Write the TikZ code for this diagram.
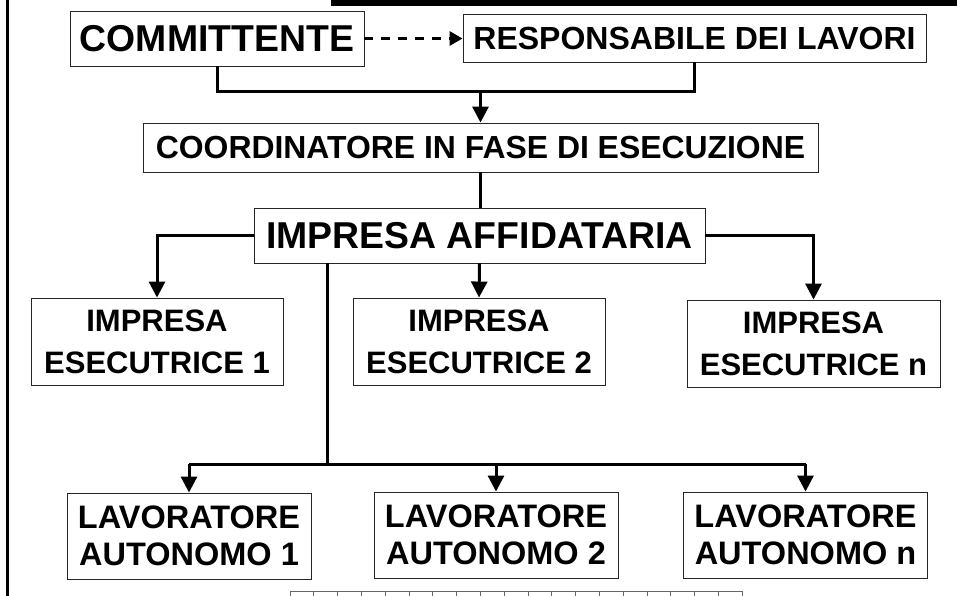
\documentclass[tikz,border=0pt]{standalone}
\usepackage{fontspec}
\setmainfont{Liberation Sans}
\usetikzlibrary{arrows.meta}
\tikzset{
  box/.style={draw=black!85, line width=0.9pt, fill=white, inner sep=0pt, align=center},
  conn/.style={line width=3pt, line join=miter},
  arr/.style={conn, -{Triangle[length=16pt,width=16pt]}},
  dasharr/.style={line width=3pt, dash pattern=on 8.5pt off 8.5pt, -{Triangle[length=13pt,width=14pt]}},
  cell/.style={draw=black!60, line width=0.7pt}
}
\begin{document}
\begin{tikzpicture}[x=1pt,y=-1pt]
\useasboundingbox (0,0) rectangle (957,596);
% frame elements
\fill (331,0) rectangle (957,6);
\draw[line width=3pt] (7.5,0) -- (7.5,596);
% nodes
\node[box, minimum width=294pt, minimum height=55pt, font=\bfseries\fontsize{37.4}{40}\selectfont] (com) at (217,38.5) {COMMITTENTE};
\node[box, minimum width=463pt, minimum height=48pt, font=\bfseries\fontsize{32}{36}\selectfont] (resp) at (694.5,38) {RESPONSABILE DEI LAVORI};
\node[box, minimum width=675pt, minimum height=49pt, font=\bfseries\fontsize{31.9}{36}\selectfont] (coord) at (480.5,147.5) {COORDINATORE IN FASE DI ESECUZIONE};
\node[box, minimum width=451pt, minimum height=55pt, font=\bfseries\fontsize{37.4}{40}\selectfont] (aff) at (479.5,235.5) {IMPRESA AFFIDATARIA};
\node[box, minimum width=252pt, minimum height=87pt, font=\bfseries\fontsize{31}{41.7}\selectfont] (e1) at (157,341.5) {IMPRESA\\ESECUTRICE 1};
\node[box, minimum width=252pt, minimum height=87pt, font=\bfseries\fontsize{31}{41.7}\selectfont] (e2) at (479,341.5) {IMPRESA\\ESECUTRICE 2};
\node[box, minimum width=253pt, minimum height=87pt, font=\bfseries\fontsize{31}{41.7}\selectfont] (en) at (813.5,343.5) {IMPRESA\\ESECUTRICE n};
\node[box, minimum width=244pt, minimum height=86pt, font=\bfseries\fontsize{32.5}{36.7}\selectfont] (l1) at (189,536) {LAVORATORE\\AUTONOMO 1};
\node[box, minimum width=244pt, minimum height=86pt, font=\bfseries\fontsize{32.5}{36.7}\selectfont] (l2) at (496,535) {LAVORATORE\\AUTONOMO 2};
\node[box, minimum width=244pt, minimum height=86pt, font=\bfseries\fontsize{32.5}{36.7}\selectfont] (ln) at (805.5,535) {LAVORATORE\\AUTONOMO n};
% connectors
\draw[dasharr] (com.east) -- (com.east -| resp.west);
\coordinate (j1) at (480.5,92);
\draw[conn] (com.south) |- (resp.south |- j1) -- (resp.south);
\draw[arr] (j1) -- (coord.north);
\draw[conn] (coord.south) -- (coord.south |- aff.north);
\draw[arr] (aff.west) -| (e1.north);
\draw[arr] (aff.south) -- (e2.north);
\draw[arr] (aff.east) -| (en.north);
\coordinate (j2) at (327,464);
\draw[conn] (aff.south -| j2) -- (j2);
\draw[conn] (l1.north |- j2) -- (ln.north |- j2);
\draw[arr] (l1.north |- j2) -- (l1.north);
\draw[arr] (l2.north |- j2) -- (l2.north);
\draw[arr] (ln.north |- j2) -- (ln.north);
% bottom strip of cells
\draw[cell] (290,591) -- (742,591);
\foreach \i in {0,...,19} {
  \draw[cell] ({290+\i*23.79},591) -- ({290+\i*23.79},596);
}
\end{tikzpicture}
\end{document}
